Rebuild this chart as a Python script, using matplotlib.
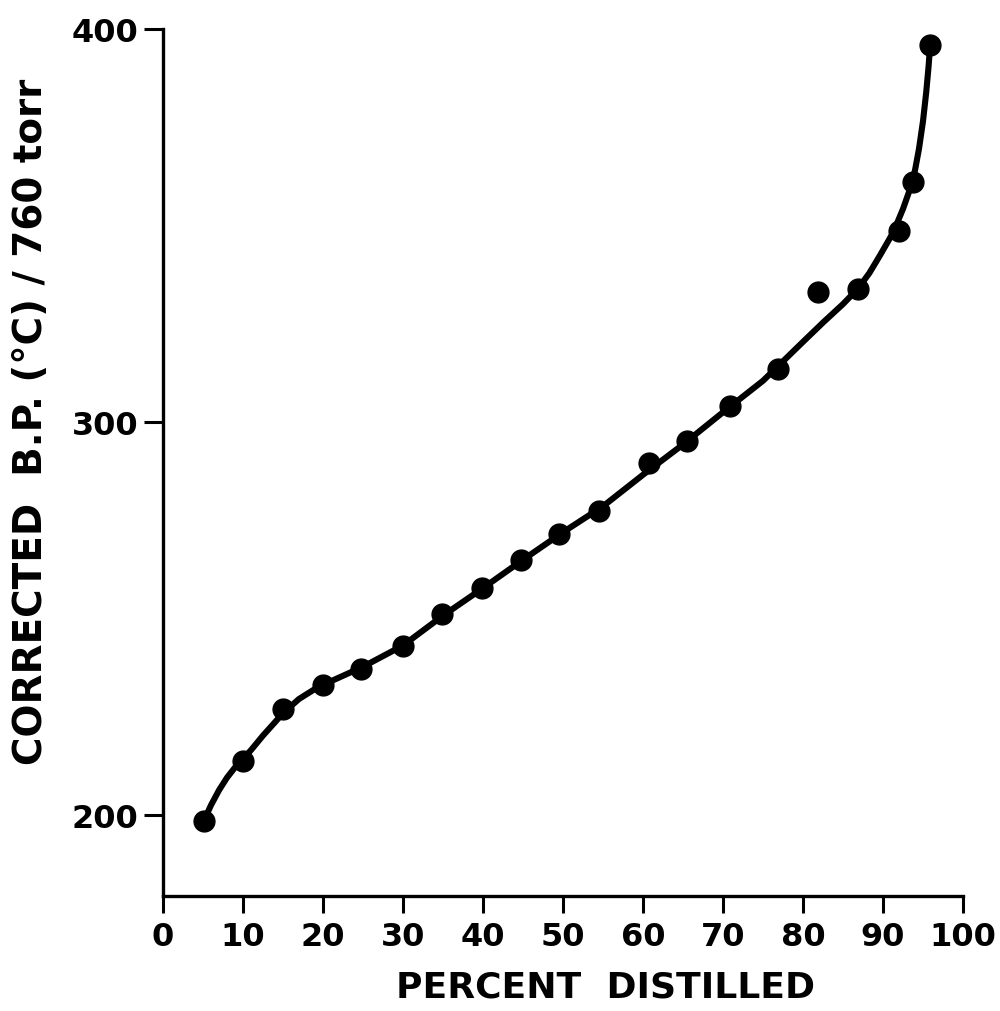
import matplotlib
matplotlib.use("Agg")
import matplotlib.pyplot as plt

# measured points (percent distilled, corrected boiling point)
pts_x = [5.1, 10.0, 15.0, 20.0, 24.8, 30.0, 34.9, 39.9, 44.8, 49.5,
         54.5, 60.7, 65.5, 70.9, 76.9, 81.9, 86.9, 92.0, 93.8, 95.9]
pts_y = [198.6, 213.8, 227.0, 233.2, 237.2, 243.1, 251.1, 257.9, 265.0, 271.5,
         277.4, 289.7, 295.2, 304.2, 313.5, 333.0, 333.8, 348.5, 361.1, 395.8]

# hand-drawn curve
curve_x = [5.1, 6.0, 7.0, 8.0, 9.0, 10.0, 11.0, 12.5, 14.0, 15.0, 17.0,
           18.8, 20.0, 25.0, 30.0, 35.0, 40.0, 45.0, 50.0, 55.0, 60.0,
           65.0, 70.0, 75.0, 80.0, 82.5, 85.0, 86.9, 88.3, 89.6, 91.3,
           92.5, 93.3, 94.0, 94.5, 95.0, 95.4, 95.7, 95.9]
curve_y = [198.6, 202.6, 206.4, 209.6, 212.2, 214.4, 216.6, 220.3, 223.7,
           226.0, 229.6, 231.9, 233.2, 237.8, 243.2, 250.8, 257.8, 265.0,
           272.0, 278.6, 286.6, 294.3, 302.5, 310.5, 320.4, 325.3, 330.0,
           334.0, 337.9, 342.3, 348.3, 354.2, 358.8, 364.0, 369.5, 376.5,
           383.8, 390.5, 396.0]

x_ticks = [0, 10, 20, 30, 40, 50, 60, 70, 80, 90, 100]
x_tick_labels = ["0", "10", "20", "30", "40", "50", "60", "70", "80", "90", "100"]
y_ticks = [200, 300, 400]

plt.rcParams["font.family"] = ["DejaVu Sans"]
plt.rcParams["font.weight"] = "bold"

fig = plt.figure(figsize=(10, 10.12), dpi=100)
ax = fig.add_axes([0.163, 0.1136, 0.80, 0.857])

ax.plot(curve_x, curve_y, color="black", lw=4.4, solid_capstyle="round",
        solid_joinstyle="round", zorder=2)
ax.plot(pts_x, pts_y, "o", color="black", ms=15, zorder=3)

ax.set_xlim(0, 100)
ax.set_ylim(179.5, 400)
ax.set_xticks(x_ticks)
ax.set_xticklabels(x_tick_labels)
ax.set_yticks(y_ticks)

for side in ["top", "right"]:
    ax.spines[side].set_visible(False)
for side in ["left", "bottom"]:
    ax.spines[side].set_linewidth(2.4)

ax.tick_params(axis="y", length=14, width=2.2, pad=4, labelsize=23)
ax.tick_params(axis="x", length=12, width=2.2, pad=6, labelsize=23)
for lbl in ax.get_xticklabels() + ax.get_yticklabels():
    lbl.set_fontweight("bold")

fig.text(0.031, 0.583, "CORRECTED  B.P. (°C) / 760 torr", rotation=90,
         ha="center", va="center", fontsize=28, fontweight="bold")
fig.text(0.606, 0.024, "PERCENT  DISTILLED", ha="center", va="center",
         fontsize=26, fontweight="bold")

fig.savefig("out.png", dpi=100)
